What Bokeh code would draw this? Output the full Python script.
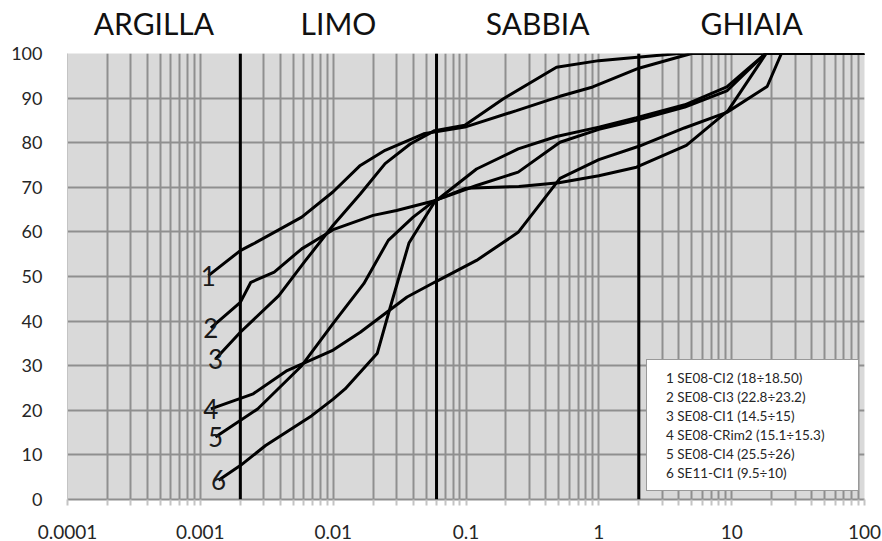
from bokeh.plotting import figure
from bokeh.models import (FixedTicker, CustomJSTickFormatter, Span, LogAxis,
                          Legend, LegendItem)
from bokeh.core.properties import value
from bokeh.embed import file_html
from bokeh.resources import INLINE
import math

# ---------------- data ----------------
x_ticks = [0.0001, 0.001, 0.01, 0.1, 1, 10, 100]
x_tick_labels = ["0.0001", "0.001", "0.01", "0.1", "1", "10", "100"]
y_ticks = [0, 10, 20, 30, 40, 50, 60, 70, 80, 90, 100]

zone_names = ["ARGILLA", "LIMO", "SABBIA", "GHIAIA"]
zone_bounds = [0.0001, 0.002, 0.06, 2, 100]

curve_numbers = ["1", "2", "3", "4", "5", "6"]
legend_labels = [
    "1 SE08-CI2 (18\u00f718.50)",
    "2 SE08-CI3 (22.8\u00f723.2)",
    "3 SE08-CI1 (14.5\u00f715)",
    "4 SE08-CRim2 (15.1\u00f715.3)",
    "5 SE08-CI4 (25.5\u00f726)",
    "6 SE11-CI1 (9.5\u00f710)",
]

c1_x = [0.00115, 0.002, 0.0025, 0.0058, 0.01, 0.016, 0.0246, 0.048, 0.098, 0.24, 0.51, 0.9, 2.0, 4.0, 5.0, 100]
c1_y = [50.2, 55.8, 57.3, 63.3, 69.0, 74.9, 78.3, 82.0, 83.5, 87.2, 90.4, 92.5, 96.7, 99.2, 100, 100]

c2_x = [0.0012, 0.002, 0.0024, 0.0036, 0.0058, 0.01, 0.02, 0.03, 0.058, 0.1, 0.25, 0.5, 1.0, 1.92, 4.56, 9.4, 18.2, 100]
c2_y = [38.5, 44.2, 48.7, 51.0, 56.2, 60.5, 63.7, 64.8, 67.0, 69.8, 70.2, 71.0, 72.6, 74.5, 79.4, 87.2, 100, 100]

c3_x = [0.0013, 0.002, 0.0039, 0.0062, 0.01, 0.016, 0.0246, 0.038, 0.058, 0.098, 0.19, 0.48, 1.0, 4.0, 100]
c3_y = [31.5, 37.5, 45.7, 53.6, 61.5, 68.5, 75.3, 79.7, 82.7, 83.9, 89.8, 96.9, 98.4, 100, 100]

c4_x = [0.0012, 0.0025, 0.0045, 0.01, 0.016, 0.036, 0.058, 0.12, 0.247, 0.51, 1.0, 2.0, 4.4, 9.2, 18.5, 23.7, 100]
c4_y = [20.3, 23.7, 28.9, 33.5, 37.5, 45.4, 48.7, 53.6, 59.9, 72.0, 76.2, 79.2, 83.3, 86.8, 92.6, 100, 100]

c5_x = [0.0013, 0.0027, 0.0058, 0.01, 0.017, 0.026, 0.040, 0.058, 0.12, 0.247, 0.51, 1.0, 1.92, 4.44, 9.2, 18.0, 100]
c5_y = [14.0, 20.3, 30.0, 39.5, 48.4, 58.1, 63.3, 67.0, 70.4, 73.4, 80.1, 83.0, 85.0, 88.0, 91.6, 100, 100]

c6_x = [0.00137, 0.002, 0.0031, 0.0069, 0.01, 0.0123, 0.0215, 0.0269, 0.0372, 0.058, 0.12, 0.247, 0.48, 1.0, 1.92, 4.44, 9.2, 18.0, 100]
c6_y = [4.3, 7.6, 12.1, 18.8, 22.5, 24.8, 32.8, 43.1, 57.5, 66.7, 74.1, 78.6, 81.4, 83.5, 85.6, 88.5, 92.5, 100, 100]

curves_x = [c1_x, c2_x, c3_x, c4_x, c5_x, c6_x]
curves_y = [c1_y, c2_y, c3_y, c4_y, c5_y, c6_y]

# ---------------- figure ----------------
FONT = "Lato"
GRID = "#8f8f8f"

p = figure(width=882, height=541, x_axis_type="log",
           x_range=(x_ticks[0], x_ticks[-1]), y_range=(y_ticks[0], y_ticks[-1]),
           output_backend="svg", toolbar_location=None,
           min_border_left=67, min_border_right=18,
           min_border_top=53, min_border_bottom=42)
p.background_fill_color = "#d9d9d9"
p.border_fill_color = "white"
p.outline_line_color = None

minor = []
for e in range(-4, 2):
    for k in range(2, 10):
        minor.append(k * 10.0 ** e)

xt = FixedTicker(ticks=x_ticks, minor_ticks=minor)
yt = FixedTicker(ticks=y_ticks)

p.xaxis.ticker = xt
p.yaxis.ticker = yt
p.xgrid.ticker = xt
p.ygrid.ticker = yt
p.xgrid.grid_line_color = GRID
p.xgrid.grid_line_width = 2
p.xgrid.minor_grid_line_color = GRID
p.xgrid.minor_grid_line_width = 2
p.ygrid.grid_line_color = GRID
p.ygrid.grid_line_width = 2

JS_PICK = """
    let best = 0, bd = 1e9;
    for (let i = 0; i < tvals.length; i++) {
        const d = Math.abs(Math.log10(tvals[i]) - Math.log10(tick));
        if (d < bd) { bd = d; best = i; }
    }
    return tlabels[best];
"""

p.xaxis.formatter = CustomJSTickFormatter(args=dict(tvals=x_ticks, tlabels=x_tick_labels), code=JS_PICK)

p.xaxis.axis_line_color = GRID
p.xaxis.axis_line_width = 2
p.xaxis.major_tick_out = 6
p.xaxis.minor_tick_out = 6
p.xaxis.major_tick_in = 0
p.xaxis.minor_tick_in = 0
p.xaxis.major_tick_line_color = "#c4c4c4"
p.xaxis.minor_tick_line_color = "#c4c4c4"
p.xaxis.major_tick_line_width = 2
p.xaxis.minor_tick_line_width = 2
p.xaxis.major_label_standoff = 19
p.xaxis.major_label_text_font = FONT
p.xaxis.major_label_text_font_size = "19px"
p.xaxis.major_label_text_color = "#262626"

p.yaxis.axis_line_color = "#c4c4c4"
p.yaxis.major_tick_line_color = None
p.yaxis.minor_tick_line_color = None
p.yaxis.major_label_standoff = 19
p.yaxis.major_label_text_font = FONT
p.yaxis.major_label_text_font_size = "18px"
p.yaxis.major_label_text_color = "#262626"

# zone boundaries
for b in zone_bounds[1:-1]:
    p.add_layout(Span(location=b, dimension="height", line_color="black", line_width=3))

# zone titles as an axis above the frame
zone_mids = [math.sqrt(zone_bounds[i] * zone_bounds[i + 1]) for i in range(len(zone_names))]
top_axis = LogAxis(ticker=FixedTicker(ticks=zone_mids, minor_ticks=[]))
top_axis.formatter = CustomJSTickFormatter(args=dict(tvals=zone_mids, tlabels=zone_names), code=JS_PICK)
top_axis.axis_line_color = None
top_axis.major_tick_line_color = None
top_axis.minor_tick_line_color = None
top_axis.major_label_standoff = 7
top_axis.major_label_text_font = FONT
top_axis.major_label_text_font_size = "30px"
top_axis.major_label_text_color = "#111111"
p.add_layout(top_axis, "above")

# curves
renderers = []
for xs, ys in zip(curves_x, curves_y):
    r = p.line(xs, ys, line_color="black", line_width=3)
    renderers.append(r)

# curve numbers at starting points
p.text(x=[c[0] for c in curves_x], y=[c[0] for c in curves_y], text=curve_numbers,
       text_align="center", text_baseline="middle", text_font=value(FONT),
       text_font_size="26px", text_color="#1a1a1a")

legend = Legend(items=[LegendItem(label=l, renderers=[r]) for l, r in zip(legend_labels, renderers)],
                location=(579, 8))
legend.glyph_width = 0
legend.glyph_height = 19
legend.label_height = 19
legend.label_width = 184
legend.spacing = 0
legend.padding = 8
legend.margin = 0
legend.label_standoff = 11
legend.border_line_color = "#333333"
legend.border_line_width = 1
legend.background_fill_color = "white"
legend.background_fill_alpha = 1
legend.label_text_font = FONT
legend.label_text_font_size = "13.5px"
legend.label_text_color = "#262626"
p.add_layout(legend)

open("out.html", "w").write(file_html(p, INLINE))
